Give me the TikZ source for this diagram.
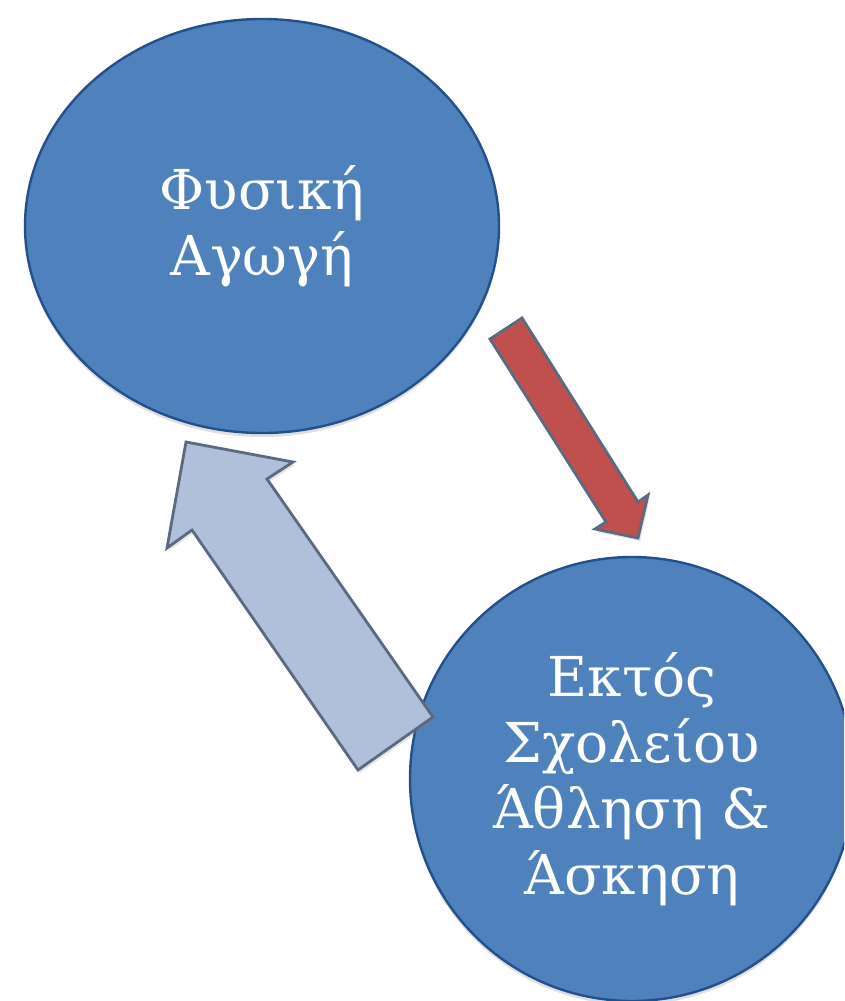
\documentclass[tikz,border=0pt]{standalone}
\usepackage{fontspec}
\setmainfont{DejaVu Serif}
\usetikzlibrary{shapes.geometric,shadows}
\definecolor{circfill}{HTML}{4F81BD}
\definecolor{circline}{HTML}{24508A}
\definecolor{arrline}{HTML}{5B6A80}
\definecolor{redfill}{HTML}{C0504D}
\definecolor{bluefill}{HTML}{B0BFDA}
\tikzset{
  bubble/.style={ellipse, fill=circfill, draw=circline, line width=2.4pt,
    text=white, align=center, inner sep=0pt,
    font=\fontsize{55}{66}\selectfont,
    drop shadow={opacity=0.25, shadow xshift=0pt, shadow yshift=-4pt}},
  blockarrow/.style={draw=arrline, line width=2.8pt, line join=miter,
    drop shadow={opacity=0.2, shadow xshift=2pt, shadow yshift=-3pt}}
}
\begin{document}
\begin{tikzpicture}[x=1pt,y=-1pt]
\useasboundingbox (0,0) rectangle (844,1001);
\clip (0,0) rectangle (844,1001);
\fill[white] (0,0) rectangle (844,1001);
\node[bubble, minimum width=474pt, minimum height=414pt] (fa) at (262,226) {Φυσική\\Αγωγή};
\node[bubble, minimum width=444pt, minimum height=444pt] (ek) at (632,779) {Εκτός\\Σχολείου\\Άθληση \&\\Άσκηση};
% red arrow (from fa towards ek)
\filldraw[blockarrow, fill=redfill]
  (490,339) -- (522,318) -- (638,502) -- (648,495) -- (638,538) -- (595,529) -- (606,522) -- cycle;
% light blue arrow (from ek back to fa)
\filldraw[blockarrow, fill=bluefill]
  (186,442) -- (293,462) -- (267,479) -- (433,717) -- (358,770) -- (192,530) -- (167,548) -- cycle;
\end{tikzpicture}
\end{document}
